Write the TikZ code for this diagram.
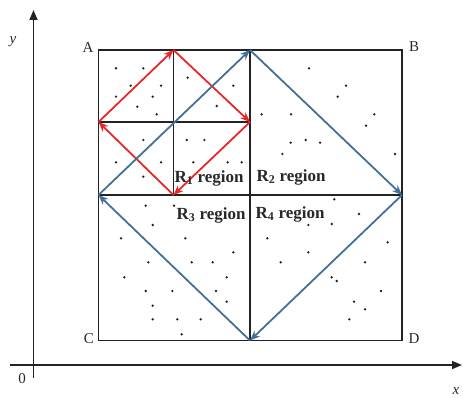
\documentclass[tikz,border=0pt]{standalone}
\usepackage{fontspec}
\setmainfont{Liberation Serif}
\usetikzlibrary{arrows.meta}
\definecolor{redarr}{RGB}{230,40,40}
\definecolor{bluearr}{RGB}{68,112,152}
\definecolor{boxline}{RGB}{35,35,35}
\definecolor{txt}{RGB}{40,40,40}
\begin{document}
\begin{tikzpicture}[x=1pt,y=-1pt,
  boxl/.style={draw=boxline,line width=1.3pt},
  axisl/.style={draw=boxline,line width=1.7pt,-{Triangle[length=10pt,width=8pt]}},
  redl/.style={draw=redarr,line width=1.8pt,-{Stealth[length=10pt,width=8pt]}},
  bluel/.style={draw=bluearr,line width=1.8pt,-{Stealth[length=10pt,width=8pt]}},
  reg/.style={font=\fontsize{17}{19}\selectfont\bfseries,text=txt,inner sep=0pt},
  corner/.style={font=\fontsize{15}{17}\selectfont,text=txt,inner sep=0pt},
  axlab/.style={font=\fontsize{15}{17}\selectfont\itshape,text=txt,inner sep=0pt},
  dot/.style={fill=boxline}]
\useasboundingbox (0,0) rectangle (463,398);
% axes
\coordinate (ytop) at (33.5,10);
\coordinate (ybot) at (33.5,378);
\coordinate (xl) at (10,365);
\coordinate (xr) at (462,365);
\draw[axisl] (ybot) -- (ytop);
\draw[axisl] (xl) -- (xr);
\node[axlab] (ylab) at (13,42) {y};
\node[axlab] (xlab) at (456,391) {x};
\node[corner] (orig) at (22,379) {0};
% square corners
\coordinate (A) at (98.5,50);
\coordinate (B) at (402,50);
\coordinate (C) at (98.5,340.5);
\coordinate (D) at (402,340.5);
\coordinate (Tm) at (250,50);
\coordinate (Bm) at (250,340.5);
\coordinate (Lm) at (98.5,195);
\coordinate (Rm) at (402,195);
\coordinate (Tq) at (173.5,50);
\coordinate (Bq) at (173.5,195);
\coordinate (Lq) at (98.5,122);
\coordinate (Rq) at (250,122);
\draw[boxl] (A) rectangle (D);
\draw[boxl] (Tm) -- (Bm);
\draw[boxl] (Lm) -- (Rm);
\draw[boxl] (Tq) -- (Bq);
\draw[boxl] (Lq) -- (Rq);
\node[corner] (lA) at (88,48) {A};
\node[corner] (lB) at (414,47) {B};
\node[corner] (lC) at (89,339) {C};
\node[corner] (lD) at (414,339) {D};
% dots
\foreach \p in {(116,68.3),(143.3,68.3),(130.7,85.7),(161,85.7),(116,96.7),(152.7,96.7),(137.3,106.7),(156.7,114.3),
 (187.7,77.7),(233.3,85.7),(216.7,106),(143.3,140),(186.7,140),(204.3,140),(116,162.3),(161,162.3),(143.3,176.7),
 (193.3,162.3),(227.7,162.3),(241.7,162.3),
 (309,68.3),(346,85.7),(337.7,96.7),(261.7,114.3),(291,114.3),(374.3,114.3),(366,125.7),(290.7,142.7),(305.7,140),
 (320,142.7),(282.3,154),(395,154),
 (145.7,205.7),(174,205.7),(152.7,225),(121,238.3),(185.3,238.3),(233.3,252.3),(148.3,262.3),(191.7,262.3),
 (212.7,262.3),(124.3,277.3),(226.7,277.3),(145.7,291),(172.3,291),(216,291),(152.7,305.7),(226.7,301.7),
 (152.7,319.3),(177.3,319.3),(200.7,319.3),(181.7,334.3),
 (334.3,199.3),(359,214),(308.3,225),(331.7,224),(267.3,238.3),(387.7,242.3),(308.3,252.3),(280.7,262.3),
 (365,262.3),(331.7,277.3),(336.7,281),(381,291),(354,301.7),(365,309.3),(349.3,319.3)}
 {\fill[dot] \p circle (1.3);}
% red arrows
\draw[redl] (Lq) -- (Tq);
\draw[redl] (Tq) -- (Rq);
\draw[redl] (Rq) -- (Bq);
\draw[redl] (Bq) -- (Lq);
% blue arrows
\draw[bluel] (Lm) -- (Tm);
\draw[bluel] (Tm) -- (Rm);
\draw[bluel] (Rm) -- (Bm);
\draw[bluel] (Bm) -- (Lm);
% region labels
\node[reg] (r1) at (209,178) {R\textsubscript{1} region};
\node[reg] (r2) at (291,177) {R\textsubscript{2} region};
\node[reg] (r3) at (211,215) {R\textsubscript{3} region};
\node[reg] (r4) at (290,214) {R\textsubscript{4} region};
\end{tikzpicture}
\end{document}
